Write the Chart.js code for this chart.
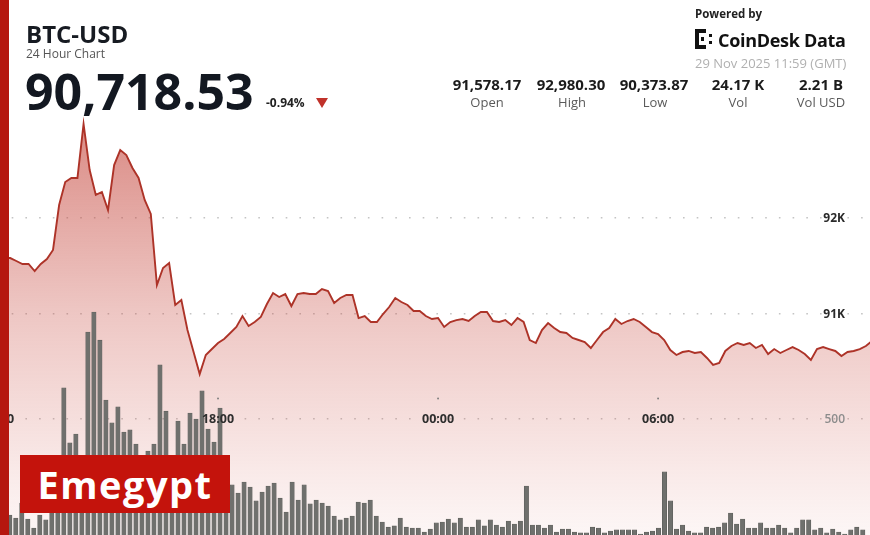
<!DOCTYPE html>
<html>
<head>
<meta charset="utf-8">
<script src="https://cdn.jsdelivr.net/npm/chart.js@4.4.1/dist/chart.umd.min.js"></script>
<style>
  html, body { margin: 0; padding: 0; background: #fff; width: 870px; height: 535px; overflow: hidden; font-family: "Open Sans", sans-serif; }
  #wrap { position: absolute; left: -12px; top: 0; width: 896px; height: 535px; }
  .t { position: absolute; white-space: nowrap; line-height: 1; }
  .col { position: absolute; width: 90px; text-align: center; white-space: nowrap; line-height: 1; }
  .val { font-weight: 700; font-size: 15px; color: #1b1b1b; top: 77px; }
  .lab { font-size: 13px; color: #5a5a5a; top: 96px; }
  #strip { position: absolute; left: 0; top: 0; width: 9px; height: 535px; background: #b5170f; }
  #mark { position: absolute; left: 20px; top: 455px; width: 210px; height: 58px; background: #c4130c; color: #fff;
          font-weight: 700; font-size: 38px; letter-spacing: 1.5px; line-height: 58px; text-align: center; }
  #tri { position: absolute; left: 316px; top: 98px; width: 0; height: 0; border-left: 6px solid transparent; border-right: 6px solid transparent; border-top: 10px solid #c0322a; }
</style>
</head>
<body>
<div id="wrap"><canvas id="c" width="896" height="535"></canvas></div>

<div class="t" style="left:26px;top:22px;font-size:24px;font-weight:700;color:#171b22;">BTC-USD</div>
<div class="t" style="left:26px;top:48px;font-size:12px;color:#555;">24 Hour Chart</div>
<div class="t" style="left:25px;top:66px;font-size:50px;font-weight:700;color:#131821;">90,718.53</div>
<div class="t" style="left:266px;top:97px;font-size:12px;font-weight:700;color:#222;">-0.94%</div>
<div id="tri"></div>

<div class="t" style="left:695px;top:8px;font-size:11.5px;font-weight:700;color:#222;">Powered by</div>
<svg style="position:absolute;left:695px;top:29px" width="20" height="20" viewBox="0 0 20 20">
  <rect x="0" y="0" width="4" height="20" fill="#111"/>
  <rect x="0" y="0" width="11" height="4" fill="#111"/>
  <rect x="0" y="16" width="11" height="4" fill="#111"/>
  <rect x="6" y="8" width="3" height="4" fill="#111"/>
  <rect x="14" y="5" width="3" height="3" fill="#111"/>
  <rect x="14" y="12" width="3" height="3" fill="#111"/>
</svg>
<div class="t" style="left:718px;top:31px;font-size:18px;font-weight:700;color:#111;letter-spacing:-0.3px;">CoinDesk Data</div>
<div class="t" style="left:695px;top:57px;font-size:13px;color:#b0b0b0;">29 Nov 2025 11:59 (GMT)</div>

<div class="col val" style="left:442px;">91,578.17</div>
<div class="col val" style="left:526px;">92,980.30</div>
<div class="col val" style="left:609px;">90,373.87</div>
<div class="col val" style="left:693px;">24.17 K</div>
<div class="col val" style="left:776px;">2.21 B</div>
<div class="col lab" style="left:442px;">Open</div>
<div class="col lab" style="left:527px;">High</div>
<div class="col lab" style="left:610px;">Low</div>
<div class="col lab" style="left:693px;">Vol</div>
<div class="col lab" style="left:776px;">Vol USD</div>

<div id="strip"></div>
<div id="mark">Emegypt</div>

<script>
// 10-minute steps, 12:00 -> 11:50 next day
const times = [];
for (let m = 0; m < 144; m++) {
  const t = (12 * 60 + m * 10) % (24 * 60);
  times.push(String(Math.floor(t / 60)).padStart(2, '0') + ':' + String(t % 60).padStart(2, '0'));
}

const prices = [
  91578, 91583, 91583, 91552, 91521, 91521, 91448, 91521, 91573, 91667,
  92135, 92375, 92417, 92417, 92980, 92500, 92240, 92271, 92083, 92552,
  92708, 92656, 92521, 92417, 92188, 92042, 91302, 91479, 91531, 91094,
  91146, 90833, 90604, 90374, 90573, 90635, 90698, 90740, 90802, 90865,
  90979, 90875, 90917, 90969, 91104, 91219, 91177, 91208, 91083, 91208,
  91219, 91208, 91208, 91260, 91240, 91115, 91167, 91198, 91198, 90958,
  90979, 90917, 90917, 91000, 91073, 91167, 91125, 91094, 91031, 91031,
  90979, 90948, 90958, 90865, 90917, 90937, 90948, 90927, 90979, 91021,
  91021, 90927, 90917, 90937, 90885, 90958, 90917, 90729, 90698, 90833,
  90906, 90854, 90812, 90802, 90750, 90729, 90708, 90646, 90729, 90812,
  90854, 90948, 90896, 90927, 90948, 90917, 90865, 90812, 90792, 90729,
  90625, 90573, 90604, 90615, 90594, 90604, 90542, 90469, 90490, 90615,
  90667, 90698, 90677, 90698, 90646, 90677, 90583, 90635, 90594, 90625,
  90656, 90625, 90583, 90521, 90635, 90656, 90635, 90615, 90562, 90604,
  90615, 90635, 90667, 90719
];

const volumes = [
  99, 86, 73, 138, 69, 30, 86, 65, 194, 280,
  634, 397, 435, 323, 875, 961, 840, 582, 483, 552,
  444, 453, 392, 280, 362, 392, 733, 534, 302, 491,
  392, 526, 500, 621, 457, 401, 547, 237, 216, 181,
  228, 207, 147, 185, 211, 224, 159, 99, 228, 151,
  216, 134, 151, 138, 125, 82, 65, 73, 82, 142,
  138, 151, 82, 56, 34, 39, 73, 34, 30, 30,
  13, 26, 52, 56, 69, 52, 73, 34, 34, 65,
  39, 65, 43, 34, 60, 47, 60, 211, 43, 43,
  30, 43, 13, 26, 26, 13, 9, 9, 34, 30,
  9, 17, 22, 22, 22, 22, 4, 13, 17, 30,
  272, 147, 26, 43, 17, 9, 9, 34, 30, 34,
  52, 95, 47, 69, 30, 30, 52, 30, 30, 43,
  30, 9, 30, 65, 65, 22, 30, 9, 26, 13,
  4, 22, 34, 22
];

const priceTicks = [91000, 92000];
const priceTickLabels = ['91K', '92K'];
const volTicks = [500];
const volTickLabels = ['500'];
const timeTickLabels = ['12:00', '18:00', '00:00', '06:00'];

const dotGrid = { color: '#c4c4c4', lineWidth: 1.6, drawTicks: false };

const labelPlugin = {
  id: 'axisText',
  afterDatasetsDraw(chart) {
    const { ctx, scales, chartArea } = chart;
    ctx.save();
    ctx.textBaseline = 'middle';
    ctx.textAlign = 'right';
    const rx = chartArea.right - 27;
    ctx.font = 'bold 12px "Open Sans"';
    ctx.fillStyle = '#2a2a2a';
    priceTicks.forEach((v, i) => ctx.fillText(priceTickLabels[i], rx, scales.y.getPixelForValue(v) + 0.5));
    ctx.font = '600 12px "Open Sans"';
    ctx.fillStyle = '#8c8c8c';
    volTicks.forEach((v, i) => ctx.fillText(volTickLabels[i], rx, scales.v.getPixelForValue(v) + 0.5));
    ctx.textAlign = 'center';
    ctx.font = 'bold 12.5px "Open Sans"';
    const ly = scales.v.getPixelForValue(500) + 0.5;
    timeTickLabels.forEach(lbl => {
      const px = scales.x.getPixelForValue(times.indexOf(lbl));
      ctx.fillStyle = '#2e2e2e';
      ctx.fillText(lbl, px, ly);
      ctx.fillStyle = '#777';
      ctx.beginPath();
      ctx.arc(px, ly - 21, 0.9, 0, Math.PI * 2);
      ctx.fill();
    });
    ctx.restore();
  }
};

new Chart(document.getElementById('c'), {
  data: {
    labels: times,
    datasets: [
      {
        type: 'bar',
        data: volumes.map((v, i) => ({ x: i, y: v })),
        xAxisID: 'xb',
        yAxisID: 'v',
        backgroundColor: '#6f706d',
        borderColor: '#5b5c59',
        borderWidth: 0.6,
        barThickness: 4.4,
        order: 0
      },
      {
        type: 'line',
        data: prices,
        xAxisID: 'x',
        yAxisID: 'y',
        borderColor: '#ad3328',
        borderWidth: 1.9,
        pointRadius: 0,
        tension: 0,
        fill: 'start',
        backgroundColor: (c) => {
          const area = c.chart.chartArea;
          if (!area) return 'rgba(200,70,60,0.2)';
          const g = c.chart.ctx.createLinearGradient(0, 120, 0, area.bottom);
          g.addColorStop(0, 'rgba(195,65,55,0.62)');
          g.addColorStop(0.45, 'rgba(200,75,65,0.32)');
          g.addColorStop(1, 'rgba(210,90,80,0.05)');
          return g;
        },
        order: 1
      }
    ]
  },
  options: {
    responsive: false,
    animation: false,
    layout: { padding: { left: 10, right: 12, top: 0, bottom: 0 } },
    plugins: { legend: { display: false }, tooltip: { enabled: false } },
    scales: {
      x: { type: 'category', offset: false, display: false },
      xb: { type: 'linear', offset: false, min: -1.33, max: 144.17, display: false },
      y: {
        position: 'right', min: 88698, max: 94271,
        afterBuildTicks: s => { s.ticks = priceTicks.map(v => ({ value: v })); },
        ticks: { display: false },
        grid: dotGrid,
        border: { display: false, dash: [1.6, 12.1] }
      },
      v: {
        position: 'right', min: 0, max: 2306,
        afterBuildTicks: s => { s.ticks = volTicks.map(v => ({ value: v })); },
        ticks: { display: false },
        grid: dotGrid,
        border: { display: false, dash: [1.6, 12.1] }
      }
    }
  },
  plugins: [labelPlugin]
});
</script>
</body>
</html>
